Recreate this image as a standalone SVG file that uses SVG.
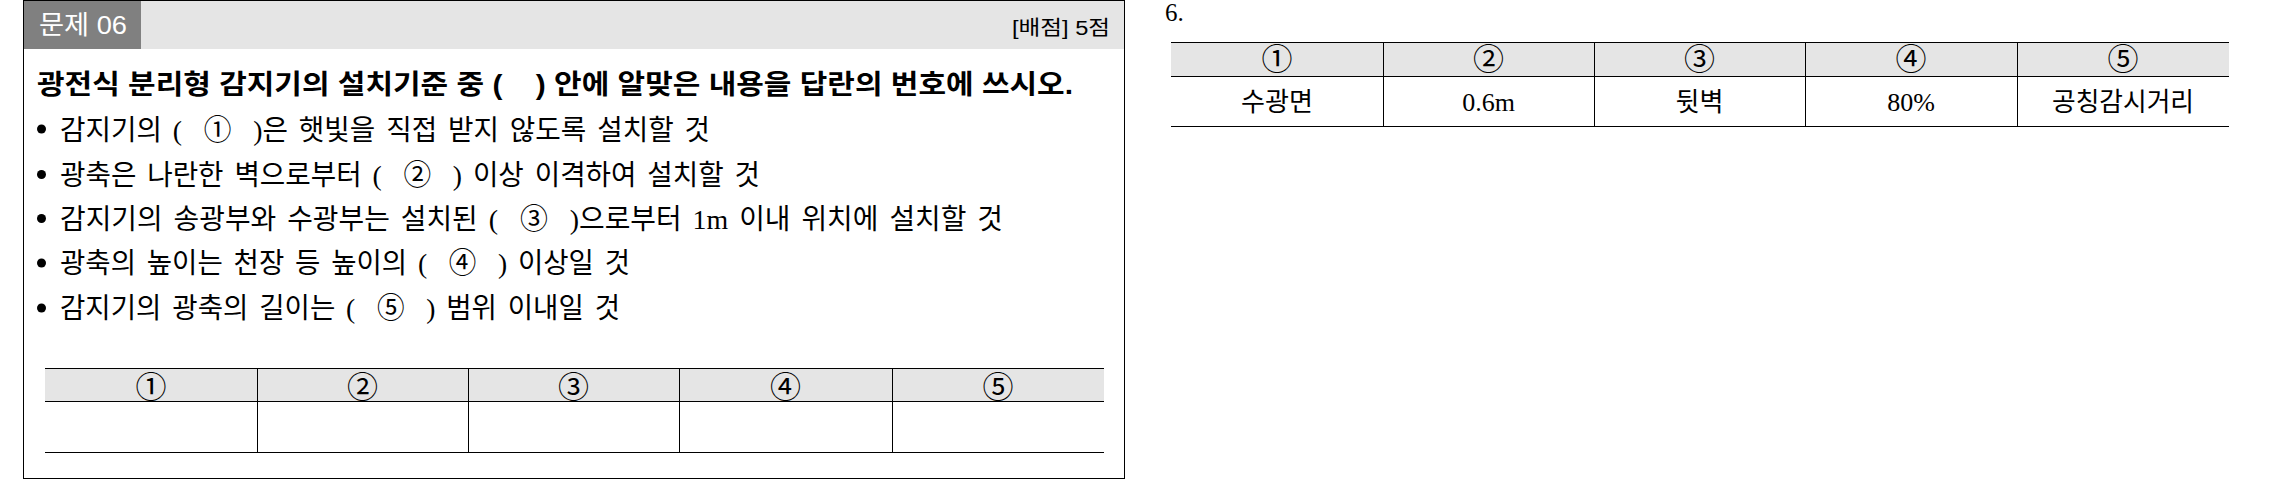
<svg xmlns="http://www.w3.org/2000/svg" width="2296" height="479" viewBox="0 0 2296 479">
<style>
 text{white-space:pre}
 .hd{font-family:"Liberation Sans","Noto Sans CJK KR",sans-serif;font-size:26px;fill:#fff}
 .pt{font-family:"Liberation Sans","Noto Sans CJK KR",sans-serif;font-size:20px;fill:#000}
 .q{font-family:"Liberation Sans","Noto Sans CJK KR",sans-serif;font-size:27px;font-weight:bold;fill:#000}
 .b{font-family:"Liberation Serif","Noto Sans CJK KR",serif;font-size:28px;fill:#000;word-spacing:4px}
 .c{font-family:"Noto Sans CJK KR",sans-serif;font-size:31px;fill:#000;text-anchor:middle}
 .a{font-family:"Liberation Serif","Noto Sans CJK KR",serif;font-size:26px;fill:#000;text-anchor:middle}
 .ln{stroke:#000;stroke-width:1;fill:none}
 .th{fill:#e5e5e5}
</style>
<rect width="2296" height="479" fill="#fff"/>
<g id="question-box">
  <rect x="23.5" y="0.5" width="1101" height="48.5" fill="#e5e5e5"/>
  <rect x="23.5" y="0.5" width="117.5" height="48.5" fill="#808080"/>
  <text class="hd" x="39" y="34" textLength="88" lengthAdjust="spacingAndGlyphs">문제 06</text>
  <text class="pt" x="1012" y="35" textLength="98" lengthAdjust="spacingAndGlyphs">[배점] 5점</text>
  <rect class="ln" x="23.5" y="0.5" width="1101" height="478"/>
</g>
<g id="question-text">
  <text class="q" x="37" y="94" textLength="1036" lengthAdjust="spacingAndGlyphs">광전식 분리형 감지기의 설치기준 중 (    ) 안에 알맞은 내용을 답란의 번호에 쓰시오.</text>
</g>
<g id="bullets">
  <circle cx="41.5" cy="129" r="4.5"/>
  <circle cx="41.5" cy="174.5" r="4.5"/>
  <circle cx="41.5" cy="218.5" r="4.5"/>
  <circle cx="41.5" cy="263" r="4.5"/>
  <circle cx="41.5" cy="308" r="4.5"/>
  <text class="b" x="60" y="139.5" textLength="650" lengthAdjust="spacingAndGlyphs">감지기의 (  ①  )은 햇빛을 직접 받지 않도록 설치할 것</text>
  <text class="b" x="60" y="184.5" textLength="700" lengthAdjust="spacingAndGlyphs">광축은 나란한 벽으로부터 (  ②  ) 이상 이격하여 설치할 것</text>
  <text class="b" x="60" y="228.5" textLength="943" lengthAdjust="spacingAndGlyphs">감지기의 송광부와 수광부는 설치된 (  ③  )으로부터 1m 이내 위치에 설치할 것</text>
  <text class="b" x="60" y="273" textLength="570" lengthAdjust="spacingAndGlyphs">광축의 높이는 천장 등 높이의 (  ④  ) 이상일 것</text>
  <text class="b" x="60" y="318" textLength="560" lengthAdjust="spacingAndGlyphs">감지기의 광축의 길이는 (  ⑤  ) 범위 이내일 것</text>
</g>
<g id="answer-blank-table">
  <rect class="th" x="45" y="368" width="1059" height="33"/>
  <path class="ln" d="M45 368.5H1104M45 401.5H1104M45 452.5H1104M257.5 368V452M468.5 368V452M679.5 368V452M892.5 368V452"/>
  <text class="c" x="151" y="398">①</text>
  <text class="c" x="362.5" y="398">②</text>
  <text class="c" x="573.5" y="398">③</text>
  <text class="c" x="785.5" y="398">④</text>
  <text class="c" x="998" y="398">⑤</text>
</g>
<g id="answer">
  <text class="a" x="1165" y="21" style="text-anchor:start;font-size:25px">6.</text>
  <rect class="th" x="1171" y="42" width="1058" height="34"/>
  <path class="ln" d="M1171 42.5H2229M1171 76.5H2229M1171 126.5H2229M1383.5 42V126M1594.5 42V126M1805.5 42V126M2017.5 42V126"/>
  <text class="c" x="1277" y="70">①</text>
  <text class="c" x="1488.5" y="70">②</text>
  <text class="c" x="1699.5" y="70">③</text>
  <text class="c" x="1911" y="70">④</text>
  <text class="c" x="2123" y="70">⑤</text>
  <text class="a" x="1277" y="111" textLength="72" lengthAdjust="spacingAndGlyphs">수광면</text>
  <text class="a" x="1488.5" y="111">0.6m</text>
  <text class="a" x="1699.5" y="111" textLength="48" lengthAdjust="spacingAndGlyphs">뒷벽</text>
  <text class="a" x="1911" y="111">80%</text>
  <text class="a" x="2123" y="111" textLength="142" lengthAdjust="spacingAndGlyphs">공칭감시거리</text>
</g>
</svg>
